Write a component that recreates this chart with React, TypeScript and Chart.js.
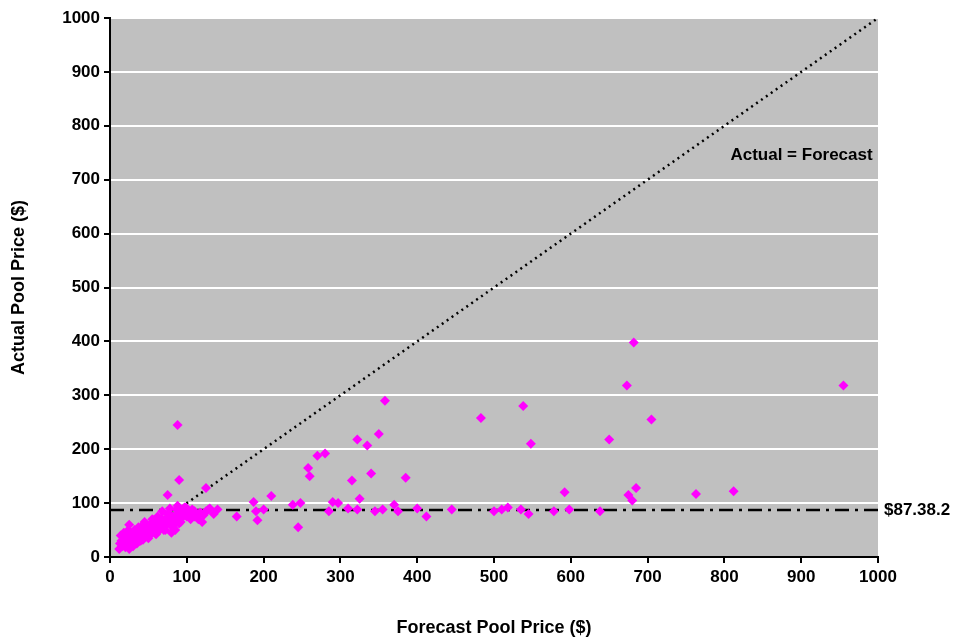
import { useEffect, useRef } from 'react';
import Chart from 'chart.js/auto';

const forecast = [88, 90, 75, 125, 165, 187, 190, 192, 200, 210, 238, 245, 248, 258, 260, 270, 280, 285, 290, 297, 310, 315, 322, 325, 322, 335, 340, 345, 350, 358, 355, 370, 375, 385, 400, 412, 445, 483, 500, 510, 518, 535, 538, 548, 545, 578, 592, 598, 638, 650, 673, 675, 680, 682, 685, 705, 763, 812, 955,
  12, 15, 18, 20, 22, 25, 28, 30, 32, 35, 38, 40, 42, 45, 48, 50, 52, 55, 58, 60, 62, 65, 68, 70, 72, 75, 78, 80, 82, 85, 88, 90, 92, 95, 98, 100, 105, 110, 115, 120, 125, 130, 135, 140, 80, 85, 45, 35, 25, 40, 60, 70, 100, 105, 110, 14, 17, 24, 27, 33, 37, 43, 47, 53, 57, 63, 67, 73, 77, 83, 87, 93, 97, 103, 108, 118, 128,
  13, 16, 19, 21, 23, 26, 29, 31, 34, 36, 39, 41, 44, 46, 49, 51, 54, 56, 59, 61, 64, 66, 69, 71, 74, 76, 79, 81, 84, 86, 89, 91, 94, 96, 99, 102, 107, 112, 117, 122, 20, 30, 40, 50, 60, 70, 80, 90];
const actual = [245, 143, 115, 128, 75, 102, 85, 68, 88, 113, 97, 55, 100, 165, 150, 188, 192, 85, 102, 100, 90, 142, 218, 108, 88, 207, 155, 85, 228, 290, 88, 97, 85, 147, 90, 75, 88, 258, 85, 88, 92, 88, 280, 210, 80, 85, 120, 88, 85, 218, 318, 115, 105, 398, 128, 255, 117, 122, 318,
  15, 30, 45, 25, 40, 60, 35, 20, 50, 45, 30, 55, 40, 65, 50, 35, 60, 70, 45, 55, 75, 60, 85, 65, 50, 80, 90, 70, 55, 75, 95, 80, 65, 85, 90, 75, 80, 85, 70, 65, 85, 90, 80, 88, 45, 50, 40, 25, 15, 35, 45, 55, 85, 70, 75, 40, 22, 50, 28, 38, 55, 32, 58, 42, 68, 48, 72, 62, 78, 60, 88, 72, 92, 82, 78, 82, 88,
  25, 20, 35, 30, 45, 28, 40, 35, 32, 50, 42, 48, 38, 55, 45, 52, 48, 58, 52, 65, 58, 62, 55, 68, 62, 72, 66, 75, 70, 78, 82, 85, 80, 88, 92, 80, 88, 75, 82, 78, 18, 25, 30, 38, 42, 50, 58, 62];
const avgPrice = 87.382;
const ticks = [0, 100, 200, 300, 400, 500, 600, 700, 800, 900, 1000];

const font = { family: 'Liberation Sans, Arial', weight: 'bold' as const, size: 17 };

const labels = {
  id: 'labels',
  afterDraw(chart: any) {
    const { ctx, scales } = chart;
    ctx.save();
    ctx.fillStyle = '#000';
    ctx.font = 'bold 17px Liberation Sans, Arial';
    ctx.textBaseline = 'middle';
    ctx.textAlign = 'left';
    ctx.fillText('$87.38.2', scales.x.right + 6, scales.y.getPixelForValue(avgPrice));
    ctx.textAlign = 'right';
    ctx.fillText('Actual = Forecast', scales.x.getPixelForValue(993), scales.y.getPixelForValue(745));
    ctx.restore();
  },
};

const App = () => {
  const chartRef = useRef<HTMLCanvasElement>(null);
  useEffect(() => {
    document.body.style.margin = '0';
    if (!chartRef.current) return;
    const chart = new Chart(chartRef.current, {
      type: 'scatter',
      data: {
        datasets: [
          {
            data: forecast.map((x, i) => ({ x, y: actual[i] })),
            pointStyle: 'rectRot',
            pointRadius: 5,
            backgroundColor: '#FF00FF',
            borderColor: '#FF00FF',
            borderWidth: 0,
          },
          {
            type: 'line',
            data: [{ x: 10, y: 10 }, { x: 1000, y: 1000 }],
            borderColor: '#000',
            borderWidth: 2.5,
            borderDash: [2, 4],
            pointRadius: 0,
          },
          {
            type: 'line',
            data: [{ x: 0, y: avgPrice }, { x: 1000, y: avgPrice }],
            borderColor: '#000',
            borderWidth: 2.5,
            borderDash: [14, 6, 3, 6],
            pointRadius: 0,
          },
        ],
      },
      options: {
        animation: false,
        responsive: false,
        layout: { padding: { top: 18, right: 91, left: 4, bottom: 0 } },
        plugins: { legend: { display: false }, tooltip: { enabled: false } },
        scales: {
          x: {
            type: 'linear', min: 0, max: 1000,
            afterBuildTicks: (s: any) => { s.ticks = ticks.map((v) => ({ value: v })); },
            afterFit: (s: any) => { s.height = 86; },
            ticks: { color: '#000', font, padding: 4, callback: (v: any) => String(v) },
            grid: { drawOnChartArea: false, color: '#000', tickLength: 6, lineWidth: 2 },
            border: { color: '#000', width: 2 },
            title: { display: true, text: 'Forecast Pool Price ($)', color: '#000', font: { ...font, size: 18 } },
          },
          y: {
            type: 'linear', min: 0, max: 1000,
            afterBuildTicks: (s: any) => { s.ticks = ticks.map((v) => ({ value: v })); },
            afterFit: (s: any) => { s.width = 106; },
            ticks: { color: '#000', font, padding: 4, callback: (v: any) => String(v) },
            grid: { color: '#fff', lineWidth: 2, tickColor: '#000', tickLength: 6 },
            border: { color: '#000', width: 2 },
            title: { display: true, text: 'Actual Pool Price ($)', color: '#000', font: { ...font, size: 18 } },
          },
        },
      },
      plugins: [
        {
          id: 'bg',
          beforeDraw(c: any) {
            const a = c.chartArea;
            c.ctx.save();
            c.ctx.fillStyle = '#C0C0C0';
            c.ctx.fillRect(a.left, a.top, a.right - a.left, a.bottom - a.top);
            c.ctx.restore();
          },
        },
        labels,
      ],
    });
    return () => chart.destroy();
  }, []);
  return <canvas ref={chartRef} width={969} height={643} />;
};

export default App;
